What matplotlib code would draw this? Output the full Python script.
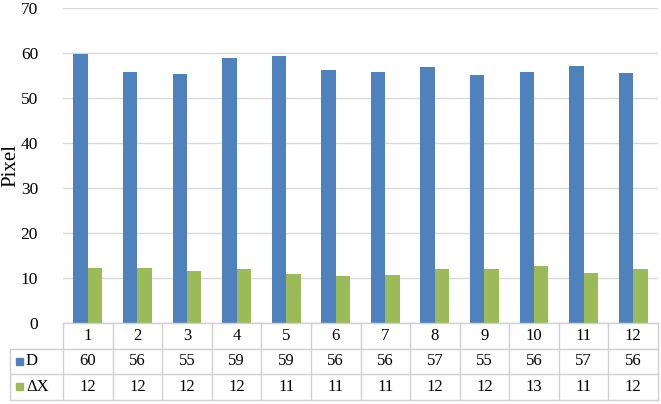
import numpy as np
import matplotlib.pyplot as plt

plt.rcParams['font.family'] = ['Liberation Serif', 'DejaVu Serif']

cats = ["1", "2", "3", "4", "5", "6", "7", "8", "9", "10", "11", "12"]
d_vals = [59.7, 55.8, 55.4, 58.9, 59.3, 56.3, 55.8, 56.9, 55.1, 55.8, 57.2, 55.6]
dx_vals = [12.2, 12.3, 11.5, 12.1, 11.0, 10.5, 10.7, 11.9, 12.0, 12.7, 11.2, 11.9]
d_labels = ["60", "56", "55", "59", "59", "56", "56", "57", "55", "56", "57", "56"]
dx_labels = ["12", "12", "12", "12", "11", "11", "11", "12", "12", "13", "11", "12"]

blue = "#4f81bd"
green = "#9bbb59"
grid_c = "#d9d9d9"
W, H = 661, 404

fig = plt.figure(figsize=(W / 100, H / 100), dpi=100)
left, right, top, bottom = 63, 658, 8, 323
ax = fig.add_axes([left / W, 1 - bottom / H, (right - left) / W, (bottom - top) / H])

x = np.arange(1, len(cats) + 1)
bw = 0.29
ax.bar(x - bw / 2, d_vals, bw, color=blue, zorder=3)
ax.bar(x + bw / 2, dx_vals, bw, color=green, zorder=3)

ax.set_xlim(0.5, len(cats) + 0.5)
ax.set_ylim(0, 70)
ax.set_yticks(range(0, 71, 10))
ax.yaxis.grid(True, color=grid_c, lw=1, zorder=0)
ax.set_xticks([])
for s in ax.spines.values():
    s.set_visible(False)
ax.tick_params(axis='y', length=0, labelsize=12.5, pad=18)
fig.text(11 / W, 1 - 166 / H, "Pixel", rotation=90, ha='center', va='center', fontsize=15)

# data table below the plot
tab_top, row_h = 323, 25.5
lab_left = 10
tax = fig.add_axes([0, 0, 1, 1])
tax.set_xlim(0, W)
tax.set_ylim(H, 0)
tax.axis('off')
line_c = "#d0d0d0"
col_w = (right - left) / len(cats)
n_rows = 3
# horizontal lines
tax.plot([left, right], [tab_top, tab_top], color=line_c, lw=1)
for r in range(1, n_rows + 1):
    y = tab_top + r * row_h
    tax.plot([lab_left, right], [y, y], color=line_c, lw=1)
# vertical lines
for c in range(len(cats) + 1):
    xx = left + c * col_w
    tax.plot([xx, xx], [tab_top, tab_top + n_rows * row_h], color=line_c, lw=1)
tax.plot([lab_left, lab_left], [tab_top + row_h, tab_top + n_rows * row_h], color=line_c, lw=1)

rows = [cats, d_labels, dx_labels]
for r, labels in enumerate(rows):
    yc = tab_top + (r + 0.5) * row_h
    for c, t in enumerate(labels):
        tax.text(left + (c + 0.5) * col_w, yc, t, ha='center', va='center', fontsize=12)

names = ["D", "\u0394X"]
for i, (nm, colr) in enumerate(zip(names, [blue, green])):
    yc = tab_top + (i + 1.5) * row_h
    tax.add_patch(plt.Rectangle((16, yc - 3.5), 7, 7, color=colr))
    tax.text(26, yc, nm, ha='left', va='center', fontsize=12)

fig.savefig("out.png", dpi=100)
